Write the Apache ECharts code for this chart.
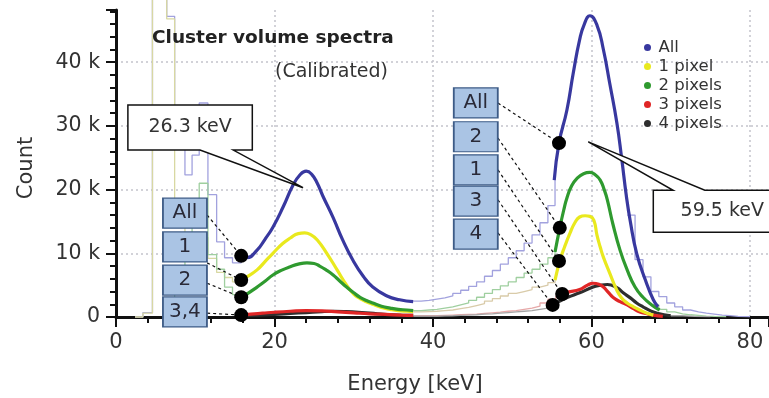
<!DOCTYPE html>
<html><head><meta charset="utf-8">
<script src="https://cdn.jsdelivr.net/npm/echarts@6/dist/echarts.min.js"></script>
<style>html,body{margin:0;padding:0;background:#fff}#c{width:769px;height:398px}</style>
</head><body><div id="c"></div>
<script>
// ---- axis ticks ----
const xTicks = [0, 20, 40, 60, 80];
const yTicks = [0, 10, 20, 30, 40]; // thousands of counts

// ---- thin measured histograms: [left bin edge (keV), count (k)] ----
const allHistLeft = [[2.4,0],[3.4,0.7],[4.6,70],[6.4,47.2],[7.4,27],[8.7,22.3],[9.6,25.4],[10.5,33.6],[11.6,19.2],[12.7,11.8],[13.7,9.3],[14.7,8.5],[15.8,9.6]];
const allHistMid = [[37.5,2.5],[38.5,2.6],[39.5,2.8],[40.5,3.0],[41.5,3.3],[42.5,3.7],[43.5,4.2],[44.5,4.8],[45.5,5.5],[46.5,6.4],[47.5,7.3],[48.5,8.3],[49.5,9.3],[50.5,10.4],[51.5,11.6],[52.5,12.9],[53.5,14.8],[54.5,17.5],[55.4,21.5]];
const allHistTail = [[64.5,16],[65.5,9.0],[66.5,6.3],[67.5,4.0],[68.5,3.2],[69.5,2.2],[70.5,1.6],[71.5,1.1],[72.5,0.8],[73.5,0.6],[74.5,0.45],[75.5,0.3],[76.5,0.2],[77.5,0.1],[78.5,0.05],[80,0]];
const oneHistLeft = [[2.4,0],[3.4,0.6],[4.6,70],[6.4,46.8],[7.4,17],[8.7,11],[9.6,10],[10.5,12.5],[11.6,9.2],[12.7,7.0],[13.7,6.2],[14.7,5.5],[15.8,5.8]];
const oneHistMid = [[37.5,0.8],[38.5,0.85],[39.5,0.9],[40.5,1.0],[41.5,1.1],[42.5,1.3],[43.5,1.5],[44.5,1.8],[45.5,2.1],[46.5,2.5],[47.5,2.9],[48.5,3.3],[49.5,3.7],[50.5,4.0],[51.5,4.3],[52.5,4.7],[53.5,5.0],[54.5,5.4],[55.4,5.8]];
const twoHistLeft = [[6.4,0],[7.4,8],[8.7,11],[9.6,15],[10.5,21],[11.6,9.8],[12.7,7.5],[13.7,4.7],[14.7,3.5],[15.8,3.1]];
const twoHistMid = [[37.5,1.0],[38.5,1.1],[39.5,1.2],[40.5,1.4],[41.5,1.6],[42.5,1.9],[43.5,2.2],[44.5,2.6],[45.5,3.1],[46.5,3.7],[47.5,4.3],[48.5,4.9],[49.5,5.5],[50.5,6.2],[51.5,6.9],[52.5,7.5],[53.5,8.3],[54.5,9.3],[55.4,10.2]];
const twoHistTail = [[67.5,1.9],[68.5,1.2],[69.5,0.8],[70.5,0.5],[71.5,0.35],[72.5,0.25],[73.5,0.15],[74.5,0.1],[75.5,0.05],[77,0]];
const threeHistMid = [[37.5,0.2],[39.5,0.2],[40.5,0.25],[41.5,0.3],[42.5,0.35],[43.5,0.4],[44.5,0.45],[45.5,0.55],[46.5,0.65],[47.5,0.75],[48.5,0.9],[49.5,1.0],[50.5,1.2],[51.5,1.4],[52.5,1.7],[53.5,2.2],[54.5,2.8],[55.5,3.3],[56.3,3.6]];
const fourHistMid = [[37.5,0.15],[40.5,0.2],[42.5,0.25],[43.5,0.3],[44.5,0.35],[45.5,0.45],[46.5,0.5],[47.5,0.6],[48.5,0.7],[49.5,0.8],[50.5,0.9],[51.5,1.0],[52.5,1.2],[53.5,1.4],[54.5,1.6],[55.1,1.9]];
const fourHistTail = [[70,0.2],[71.5,0.1],[73,0.05],[75,0]];

// ---- thick fitted curves: [energy (keV), count (k)] ----
const allFitLeft = [[15.8,9.6],[16.5,9.3],[17.8,10.5],[18.8,12.2],[19.8,14.1],[21.1,17.3],[22.3,20.6],[23.2,22.3],[24.0,22.9],[24.7,22.4],[25.4,21.0],[26.1,19.0],[27.4,15.6],[28.6,12.1],[29.9,8.9],[31.2,6.4],[32.4,4.7],[34.2,3.3],[35.8,2.7],[37.5,2.4]];
const allFitRight = [[55.3,21.5],[55.9,27.3],[56.9,32.5],[57.7,38.3],[58.5,43.5],[59.1,46],[59.8,47.3],[60.7,45.8],[61.5,42],[62.3,36.7],[63.2,30.5],[63.8,25],[64.4,19],[64.9,15],[65.7,10],[66.8,5.8],[67.8,2.7],[68.4,1.6]];
const oneFitLeft = [[15.8,5.8],[16.5,6.3],[17.8,7.4],[18.8,8.7],[19.8,10],[21,11.5],[22,12.4],[23,13.1],[23.8,13.2],[24.6,12.9],[25.4,12.1],[26.6,10],[27.9,7.4],[29.1,5.0],[30,3.6],[30.8,2.9],[31.6,2.4],[32.4,2.0],[33.5,1.5],[34.6,1.2],[35.6,1.0],[36.7,0.9],[37.5,0.85]];
const oneFitRight = [[55.4,5.8],[56,8.8],[56.6,11],[57.3,13.2],[57.9,14.8],[58.5,15.7],[59.2,15.9],[59.8,15.8],[60.3,15.2],[60.7,12.8],[61.1,11],[61.5,9.4],[62.3,6.9],[63.2,4.2],[63.8,3],[64.5,2.2],[65.3,1.6],[66.1,1.1],[67,0.6],[67.8,0.3]];
const twoFitLeft = [[15.8,3.1],[16.5,3.6],[17.8,4.7],[18.8,5.6],[19.8,6.6],[21,7.4],[22,7.9],[23,8.3],[24.1,8.5],[25,8.4],[25.7,8.0],[26.5,7.4],[27.4,6.6],[28.2,5.7],[29.1,4.7],[30,3.8],[30.8,3.1],[31.6,2.6],[32.4,2.2],[33.5,1.7],[34.6,1.4],[35.6,1.2],[36.7,1.1],[37.5,1.0]];
const twoFitRight = [[55.4,10.2],[56,14],[56.5,16.8],[56.9,18.7],[57.5,20.6],[58.2,21.8],[59,22.5],[59.8,22.7],[60.5,22.3],[61.1,21.5],[61.6,20],[62,18.4],[62.7,14.6],[63.6,10.5],[64.5,7.4],[65.5,4.7],[66.5,3.1],[67.6,1.9],[68.6,1.1]];
const threeFitLeft = [[15.8,0.3],[17,0.45],[18.5,0.6],[20,0.75],[22,0.9],[24,1.0],[26,0.95],[28,0.8],[30,0.65],[32,0.5],[34,0.4],[36,0.3],[37.5,0.25]];
const threeFitRight = [[56.3,3.6],[57,3.9],[58.5,4.3],[59.5,5.0],[60.2,5.3],[61,5.1],[61.5,4.7],[62.1,3.9],[62.7,3.1],[63.6,2.4],[64.5,1.9],[65.3,1.3],[66.1,0.8],[67,0.5],[67.8,0.3],[69,0.1]];
const fourFitLeft = [[15.8,0.2],[18,0.3],[20,0.4],[22,0.55],[24,0.7],[26,0.85],[27.5,0.9],[29,0.85],[31,0.7],[33,0.5],[35,0.35],[37.5,0.25]];
const fourFitRight = [[55.1,1.9],[56,2.5],[57,3.1],[58.5,3.8],[60.2,4.7],[61,4.95],[62,5.1],[63.2,4.6],[64,3.8],[64.9,3.0],[65.7,2.2],[66.5,1.6],[67.4,1.0],[68.3,0.6],[70,0.2]];

// ---- annotation anchors (data coordinates) ----
const boxLabels = ['All','1','2','3,4','All','2','1','3','4'];
const boxE = [8.7,8.7,8.7,8.7,45.4,45.4,45.4,45.4,45.4];
const boxC = [16.3,11.0,5.8,0.8,33.6,28.3,23.1,18.2,13.0];
const linkStartE = [11.5,11.5,11.5,11.5,48.2,48.2,48.2,48.2,48.2];
const linkStartC = [16.0,8.5,5.3,0.6,33.6,28.1,23.1,18.4,13.2];
const dotE = [15.8,15.8,15.8,15.8,55.9,56.0,55.9,56.3,55.1];
const dotC = [9.6,5.8,3.1,0.3,27.3,14.0,8.8,3.6,1.9];

const calloutText = ['26.3 keV','59.5 keV'];
const calloutLeftE = [1.5, 67.8];
const calloutRightE = [17.2, 85.2];
const calloutTopC = [33.3, 19.9];
const calloutBottomC = [26.2, 13.3];
const pointerBaseE0 = [10.6, 70.3];
const pointerBaseE1 = [14.8, 74.3];
const pointerTipE = [23.6, 59.6];
const pointerTipC = [20.3, 27.5];

const seriesNames = ['All','1 pixel','2 pixels','3 pixels','4 pixels'];
const FONT = 'DejaVu Sans';

function thin(name, data, color) {
  return {name: name + ' (histogram)', type: 'line', data, step: 'end', showSymbol: false, clip: false,
    lineStyle: {color, width: 1.3}, itemStyle: {color}, z: 2, silent: true};
}
function fit(name, data, color, z) {
  return {name, type: 'line', data, smooth: 0.5, showSymbol: false,
    lineStyle: {color, width: 3.2}, itemStyle: {color}, z, silent: true};
}
const C = {all:'#38389f', one:'#e9e91e', two:'#2f9a2f', three:'#e02626', four:'#2e2e2e'};
const T = {all:'#a2a2de', one:'#d8d8a2', oneMid:'#d9cba9', two:'#9fcf9f', three:'#e6a8a8', four:'#a5a5a5'};

const series = [
  thin('All', allHistLeft, T.all), thin('All', allHistMid, T.all), thin('All', allHistTail, T.all),
  thin('1 pixel', oneHistLeft, T.one), thin('1 pixel', oneHistMid, T.oneMid),
  thin('2 pixels', twoHistLeft, T.two), thin('2 pixels', twoHistMid, T.two), thin('2 pixels', twoHistTail, T.two),
  thin('3 pixels', threeHistMid, T.three),
  thin('4 pixels', fourHistMid, T.four), thin('4 pixels', fourHistTail, T.four),
  fit('4 pixels', fourFitLeft, C.four, 3), fit('4 pixels', fourFitRight, C.four, 3),
  fit('3 pixels', threeFitLeft, C.three, 3), fit('3 pixels', threeFitRight, C.three, 3),
  fit('1 pixel', oneFitLeft, C.one, 3), fit('1 pixel', oneFitRight, C.one, 3),
  fit('2 pixels', twoFitLeft, C.two, 3), fit('2 pixels', twoFitRight, C.two, 3),
  fit('All', allFitLeft, C.all, 3), fit('All', allFitRight, C.all, 3),
  {type: 'lines', coordinateSystem: 'cartesian2d', z: 4, silent: true,
    lineStyle: {color: '#111', width: 1.2, type: [3, 3], opacity: 1},
    data: linkStartE.map((e, i) => ({coords: [[e, linkStartC[i]], [dotE[i], dotC[i]]]}))},
  {type: 'scatter', z: 5, silent: true, clip: false, symbol: 'rect', symbolSize: [44, 30],
    itemStyle: {color: '#aac4e4', borderColor: '#3d5b86', borderWidth: 1.5, opacity: 1},
    label: {show: true, position: 'inside', formatter: p => boxLabels[p.dataIndex],
      fontFamily: FONT, fontSize: 20, color: '#2a2a38'},
    data: boxE.map((e, i) => [e, boxC[i]])},
  {type: 'scatter', z: 6, silent: true, clip: false, symbol: 'circle', symbolSize: 14,
    itemStyle: {color: '#000', opacity: 1}, data: dotE.map((e, i) => [e, dotC[i]])},
  {type: 'custom', z: 7, silent: true, clip: false,
    data: pointerTipE.map((e, i) => [e, pointerTipC[i]]),
    renderItem: function (params, api) {
      const i = params.dataIndex;
      const tl = api.coord([calloutLeftE[i], calloutTopC[i]]);
      const br = api.coord([calloutRightE[i], calloutBottomC[i]]);
      const tip = api.coord([pointerTipE[i], pointerTipC[i]]);
      const b0 = api.coord([pointerBaseE0[i], calloutTopC[i]])[0];
      const b1 = api.coord([pointerBaseE1[i], calloutTopC[i]])[0];
      let pts;
      if (tip[1] < tl[1]) {
        pts = [[tl[0], tl[1]], [b0, tl[1]], tip, [b1, tl[1]], [br[0], tl[1]], [br[0], br[1]], [tl[0], br[1]]];
      } else {
        pts = [[tl[0], tl[1]], [br[0], tl[1]], [br[0], br[1]], [b1, br[1]], tip, [b0, br[1]], [tl[0], br[1]]];
      }
      return {type: 'group', children: [
        {type: 'polygon', shape: {points: pts}, style: {fill: '#fff', stroke: '#111', lineWidth: 1.5}},
        {type: 'text', style: {text: calloutText[i], x: (tl[0] + br[0]) / 2, y: (tl[1] + br[1]) / 2,
          align: 'center', verticalAlign: 'middle', font: '19px "' + FONT + '"', fill: '#333'}}
      ]};
    }}
];

const axisCommon = {
  axisLine: {show: true, onZero: false, lineStyle: {color: '#111', width: 3}},
  axisTick: {show: true, inside: false, length: 10, lineStyle: {color: '#111', width: 2}},
  minorTick: {show: true, splitNumber: 5, length: 6, lineStyle: {color: '#111', width: 2}},
  splitLine: {show: true, showMinLine: false, showMaxLine: false, lineStyle: {color: '#c3c3cc', width: 1.5, type: [2, 3]}},
  minorSplitLine: {show: false}
};

const chart = echarts.init(document.getElementById('c'), null, {renderer: 'canvas'});
chart.setOption({
  animation: false,
  backgroundColor: '#fff',
  grid: {left: 116, right: 0, top: 10, bottom: 81},
  title: [
    {text: 'Cluster volume spectra', left: 152, top: 29, padding: 0,
      textStyle: {fontFamily: FONT, fontWeight: 'bold', fontSize: 18.5, color: '#222'}},
    {text: '(Calibrated)', left: 275, top: 63, padding: 0,
      textStyle: {fontFamily: FONT, fontWeight: 'normal', fontSize: 19, color: '#333'}}
  ],
  legend: {
    data: seriesNames, orient: 'vertical', left: 644, top: 39, padding: 0, itemGap: 2,
    icon: 'circle', itemWidth: 12, itemHeight: 7, selectedMode: false,
    textStyle: {fontFamily: FONT, fontSize: 16.5, lineHeight: 17, color: '#333'}
  },
  xAxis: Object.assign({type: 'value', min: xTicks[0], max: 82.4, interval: xTicks[1] - xTicks[0],
    axisLabel: {showMaxLabel: false, margin: 15, fontFamily: FONT, fontSize: 21, color: '#333',
      formatter: v => xTicks.includes(v) ? String(v) : ''}}, axisCommon),
  yAxis: Object.assign({type: 'value', min: yTicks[0], max: 48.2, interval: yTicks[1] - yTicks[0],
    axisLabel: {showMaxLabel: false, margin: 16, fontFamily: FONT, fontSize: 20.5, color: '#333',
      formatter: v => yTicks.includes(v) ? (v === 0 ? '0' : v + ' k') : ''}}, axisCommon),
  graphic: [
    {type: 'text', x: 27, y: 168, rotation: Math.PI / 2, silent: true,
      style: {text: 'Count', font: '21px "' + FONT + '"', fill: '#333', align: 'center', verticalAlign: 'middle'}},
    {type: 'text', x: 415, y: 385, silent: true,
      style: {text: 'Energy [keV]', font: '21px "' + FONT + '"', fill: '#333', align: 'center', verticalAlign: 'middle'}}
  ],
  series
});
</script></body></html>
